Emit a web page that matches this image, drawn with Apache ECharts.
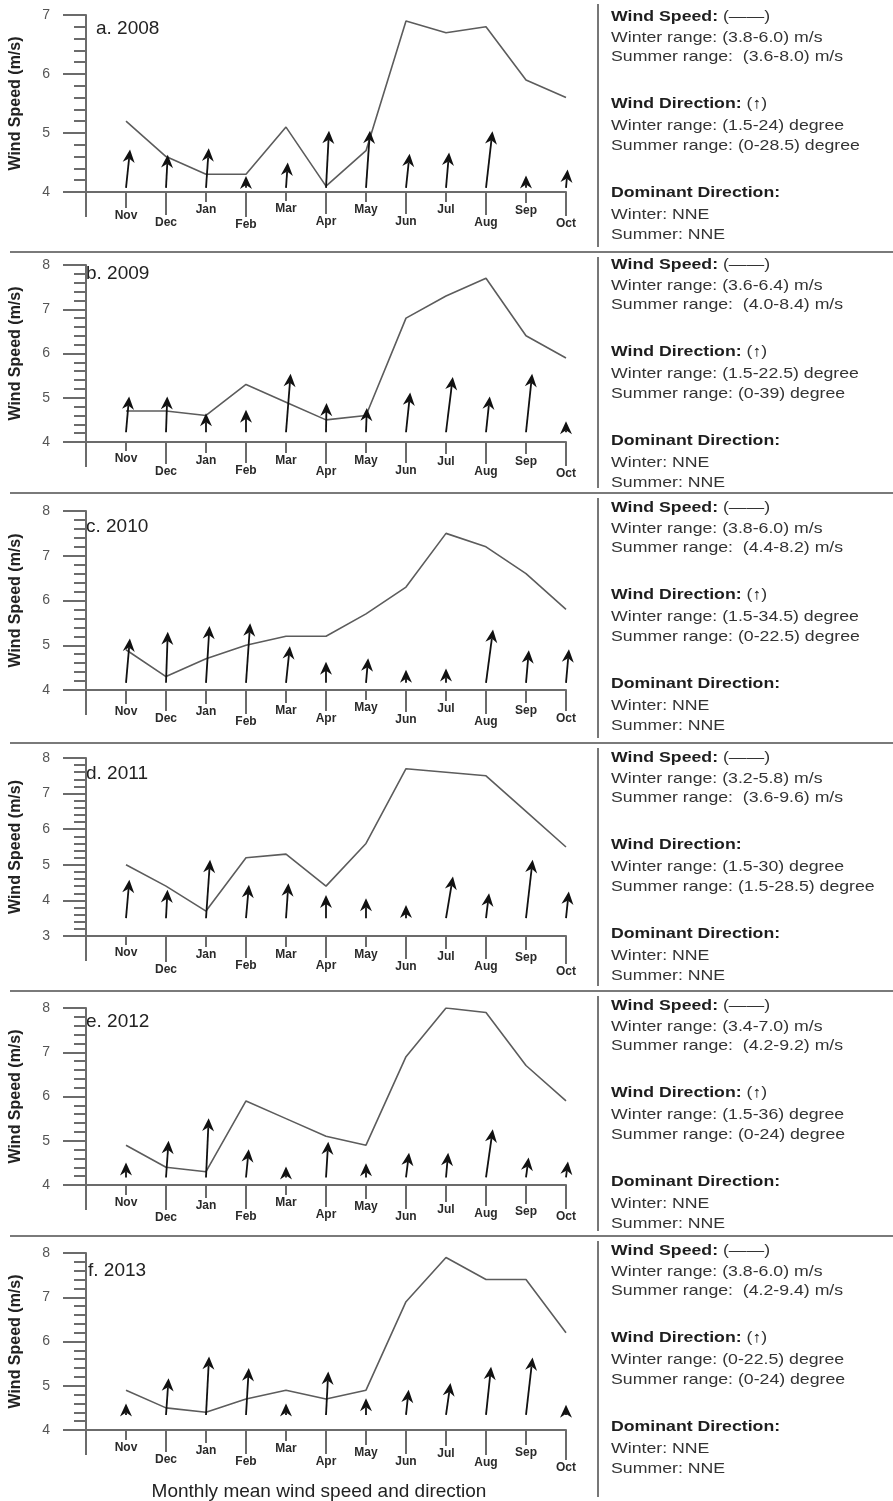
<!DOCTYPE html>
<html>
<head>
<meta charset="utf-8">
<script src="https://cdn.jsdelivr.net/npm/echarts@6/dist/echarts.min.js"></script>
<style>
  html, body { margin: 0; padding: 0; background: #fff; }
  #chart { width: 893px; height: 1501px; }
</style>
</head>
<body>
<div id="chart"></div>
<script>
// ---- data ----
const months = ['Nov', 'Dec', 'Jan', 'Feb', 'Mar', 'Apr', 'May', 'Jun', 'Jul', 'Aug', 'Sep', 'Oct'];
const panelTitles = ['a. 2008', 'b. 2009', 'c. 2010', 'd. 2011', 'e. 2012', 'f. 2013'];

// monthly mean wind speed (m/s)
const speed2008 = [5.2, 4.6, 4.3, 4.3, 5.1, 4.1, 4.7, 6.9, 6.7, 6.8, 5.9, 5.6];
const speed2009 = [4.7, 4.7, 4.6, 5.3, 4.9, 4.5, 4.6, 6.8, 7.3, 7.7, 6.4, 5.9];
const speed2010 = [4.9, 4.3, 4.7, 5.0, 5.2, 5.2, 5.7, 6.3, 7.5, 7.2, 6.6, 5.8];
const speed2011 = [5.0, 4.4, 3.7, 5.2, 5.3, 4.4, 5.6, 7.7, 7.6, 7.5, 6.5, 5.5];
const speed2012 = [4.9, 4.4, 4.3, 5.9, 5.5, 5.1, 4.9, 6.9, 8.0, 7.9, 6.7, 5.9];
const speed2013 = [4.9, 4.5, 4.4, 4.7, 4.9, 4.7, 4.9, 6.9, 7.9, 7.4, 7.4, 6.2];

// direction arrows: tip height on the speed scale
const arrowTip2008 = [4.72, 4.63, 4.74, 4.27, 4.50, 5.04, 5.04, 4.65, 4.67, 5.03, 4.28, 4.38];
const arrowTip2009 = [5.03, 5.03, 4.65, 4.73, 5.54, 4.88, 4.77, 5.12, 5.47, 5.03, 5.54, 4.47];
const arrowTip2010 = [5.15, 5.30, 5.43, 5.49, 4.98, 4.63, 4.71, 4.45, 4.48, 5.35, 4.89, 4.91];
const arrowTip2011 = [4.58, 4.30, 5.14, 4.44, 4.48, 4.15, 4.06, 3.87, 4.67, 4.20, 5.14, 4.25];
const arrowTip2012 = [4.51, 5.00, 5.51, 4.81, 4.42, 4.98, 4.49, 4.73, 4.73, 5.26, 4.62, 4.53];
const arrowTip2013 = [4.60, 5.17, 5.66, 5.40, 4.60, 5.32, 4.72, 4.91, 5.06, 5.43, 5.64, 4.57];

// direction arrows: lean east of north (degrees)
const arrowLean2008 = [6, 3, 4, 0, 4, 3, 4, 6, 5, 6.5, 0, 5];
const arrowLean2009 = [5, 2, 0, 0, 4.5, 1, 2, 6, 7, 6, 6, 0];
const arrowLean2010 = [5, 2, 3.5, 4, 6, 0, 5, 0, 0, 7.5, 5, 5];
const arrowLean2011 = [5, 3, 4, 5, 4, 0, 0, 0, 9.5, 7, 6.5, 6];
const arrowLean2012 = [0, 4, 2.6, 5.5, 0, 3.6, 0, 7, 5, 8, 7.5, 7];
const arrowLean2013 = [0, 4, 3, 3.4, 0, 3, 0, 6, 8, 6, 6.5, 0];

// arrow foot on the speed scale
const arrowBase = [4.07, 4.22, 4.16, 3.5, 4.17, 4.34];

// speed axis ranges
const yMin = [4, 4, 4, 3, 4, 4];
const yMax = [7, 8, 8, 8, 8, 8];

// summary text
const winterSpeed = ['3.8-6.0', '3.6-6.4', '3.8-6.0', '3.2-5.8', '3.4-7.0', '3.8-6.0'];
const summerSpeed = ['3.6-8.0', '4.0-8.4', '4.4-8.2', '3.6-9.6', '4.2-9.2', '4.2-9.4'];
const winterDir = ['1.5-24', '1.5-22.5', '1.5-34.5', '1.5-30', '1.5-36', '0-22.5'];
const summerDir = ['0-28.5', '0-39', '0-22.5', '1.5-28.5', '0-24', '0-24'];
const dominantWinter = ['NNE', 'NNE', 'NNE', 'NNE', 'NNE', 'NNE'];
const dominantSummer = ['NNE', 'NNE', 'NNE', 'NNE', 'NNE', 'NNE'];
const showDirSymbol = [true, true, true, false, true, true];

const speeds = [speed2008, speed2009, speed2010, speed2011, speed2012, speed2013];
const arrowTips = [arrowTip2008, arrowTip2009, arrowTip2010, arrowTip2011, arrowTip2012, arrowTip2013];
const arrowLeans = [arrowLean2008, arrowLean2009, arrowLean2010, arrowLean2011, arrowLean2012, arrowLean2013];

// ---- layout ----
const FONT = '"Liberation Sans", Arial, sans-serif';
const AXIS_COLOR = '#6b6b6b';
const gridTop = [15, 265, 511, 758, 1008, 1253];
const gridHeight = [177, 177, 179, 178, 177, 177];
const gridLeft = 82;
const gridWidth = 484;
// month label distance below the axis (px), staggered
const labelDrop = [
  [24, 31, 18, 33, 17, 30, 18, 30, 18, 31, 19, 32],
  [17, 30, 19, 29, 19, 30, 19, 29, 20, 30, 20, 32],
  [22, 29, 22, 32, 21, 29, 18, 30, 19, 32, 21, 29],
  [17, 34, 19, 30, 19, 30, 19, 31, 21, 31, 22, 36],
  [18, 33, 21, 32, 18, 30, 22, 32, 25, 29, 27, 32],
  [18, 30, 21, 32, 19, 32, 23, 32, 24, 33, 23, 38]
];
const titlePos = [[96, 30], [86, 275], [86, 528], [86, 775], [86, 1023], [88, 1272]];
const bandTop = [0, 253, 494, 744, 992, 1237];
const bandBottom = [251, 492, 742, 990, 1235, 1501];
const separatorsY = [252, 493, 743, 991, 1236];
const textTop = [17, 265, 508, 758, 1006, 1251];
const lineOffsets = [0, 21, 40, 87, 109, 129, 176, 198, 218];
const textLeft = 611;
const noteStretch = 1.18;

// ---- builders ----
function arrowRenderer(p) {
  return function (params, api) {
    const x = api.value(0);
    const tipVal = api.value(1);
    const lean = api.value(2) * Math.PI / 180;
    const foot = api.coord([x, arrowBase[p]]);
    const top = api.coord([x, tipVal]);
    const rise = foot[1] - top[1];
    const tx = foot[0] + rise * Math.tan(lean);
    const ty = top[1];
    const L = Math.hypot(tx - foot[0], ty - foot[1]);
    const ux = (tx - foot[0]) / L, uy = (ty - foot[1]) / L;
    const nx = -uy, ny = ux;
    const H = 13, W = 6, N = 9;
    const head = [
      [tx, ty],
      [tx - ux * H + nx * W, ty - uy * H + ny * W],
      [tx - ux * N, ty - uy * N],
      [tx - ux * H - nx * W, ty - uy * H - ny * W]
    ];
    const children = [];
    if (L > N) {
      children.push({
        type: 'line',
        shape: { x1: foot[0], y1: foot[1], x2: tx - ux * N, y2: ty - uy * N },
        style: { stroke: '#111', lineWidth: 1.8 }
      });
    }
    children.push({ type: 'polygon', shape: { points: head }, style: { fill: '#111' } });
    return { type: 'group', children };
  };
}

function tickRenderer(p) {
  return function (params, api) {
    const i = api.value(0);
    const pt = api.coord([i, yMin[p]]);
    if (i === 0) {
      return {
        type: 'line',
        shape: { x1: pt[0], y1: pt[1], x2: pt[0], y2: pt[1] + 25 },
        style: { stroke: AXIS_COLOR, lineWidth: 2 }
      };
    }
    const drop = labelDrop[p][i - 1];
    return {
      type: 'group',
      children: [
        {
          type: 'line',
          shape: { x1: pt[0], y1: pt[1], x2: pt[0], y2: pt[1] + drop - 8 },
          style: { stroke: AXIS_COLOR, lineWidth: 2 }
        },
        {
          type: 'text',
          x: pt[0], y: pt[1] + drop,
          style: {
            text: months[i - 1], fill: '#2a2a2a',
            font: 'bold 12px ' + FONT, textAlign: 'center', textVerticalAlign: 'middle'
          }
        }
      ]
    };
  };
}

const grids = [], xAxes = [], yAxes = [], series = [], graphics = [];

for (let p = 0; p < 6; p++) {
  grids.push({ left: gridLeft, top: gridTop[p], width: gridWidth, height: gridHeight[p] });
  xAxes.push({
    gridIndex: p, type: 'value', min: 0, max: 12, interval: 1,
    axisLine: { show: true, lineStyle: { color: AXIS_COLOR, width: 2 } },
    axisTick: { show: false }, axisLabel: { show: false }, splitLine: { show: false }
  });
  yAxes.push({
    gridIndex: p, type: 'value', min: yMin[p], max: yMax[p], interval: 1,
    name: 'Wind Speed (m/s)', nameLocation: 'middle', nameGap: 62,
    nameTextStyle: { fontFamily: FONT, fontWeight: 'bold', fontSize: 16, color: '#222' },
    axisLine: { show: true, lineStyle: { color: AXIS_COLOR, width: 2 } },
    axisTick: { show: true, length: 23, lineStyle: { color: AXIS_COLOR, width: 2 } },
    minorTick: { show: true, splitNumber: 5, length: 12, lineStyle: { color: AXIS_COLOR, width: 2 } },
    axisLabel: { margin: 36, fontFamily: FONT, fontSize: 14, color: '#555' },
    splitLine: { show: false }, minorSplitLine: { show: false }
  });

  series.push({
    type: 'line', xAxisIndex: p, yAxisIndex: p,
    data: speeds[p].map((v, i) => [i + 1, v]),
    symbol: 'none', lineStyle: { color: '#5c5c5c', width: 1.6 }, z: 3, silent: true
  });
  series.push({
    type: 'custom', xAxisIndex: p, yAxisIndex: p,
    data: arrowTips[p].map((v, i) => [i + 1, v, arrowLeans[p][i]]),
    renderItem: arrowRenderer(p), z: 5, silent: true, clip: false
  });
  series.push({
    type: 'custom', xAxisIndex: p, yAxisIndex: p,
    data: [0, 1, 2, 3, 4, 5, 6, 7, 8, 9, 10, 11, 12].map(i => [i]),
    renderItem: tickRenderer(p), z: 2, silent: true, clip: false
  });

  // panel title
  graphics.push({
    type: 'text', left: titlePos[p][0], top: titlePos[p][1] - 11,
    style: { text: panelTitles[p], font: '19px ' + FONT, fill: '#222' }
  });

  // vertical divider between plot and notes
  graphics.push({
    type: 'line', shape: { x1: 598, y1: bandTop[p] + 4, x2: 598, y2: bandBottom[p] - 4 },
    style: { stroke: '#777', lineWidth: 2 }
  });

  // notes
  const lines = [
    '{b|Wind Speed:} {n|(——)}',
    'Winter range: (' + winterSpeed[p] + ') m/s',
    'Summer range:  (' + summerSpeed[p] + ') m/s',
    showDirSymbol[p] ? '{b|Wind Direction:} {n|(}{s|↑}{n|)}' : '{b|Wind Direction:}',
    'Winter range: (' + winterDir[p] + ') degree',
    'Summer range: (' + summerDir[p] + ') degree',
    '{b|Dominant Direction:}',
    'Winter: ' + dominantWinter[p],
    'Summer: ' + dominantSummer[p]
  ];
  lines.forEach((t, k) => {
    graphics.push({
      type: 'text', x: textLeft, y: textTop[p] + lineOffsets[k], scaleX: noteStretch,
      style: {
        text: t, font: '15px ' + FONT, fill: '#333', textVerticalAlign: 'middle',
        rich: {
          b: { fontFamily: FONT, fontWeight: 'bold', fontSize: 15, fill: '#1e1e1e', color: '#1e1e1e' },
          n: { fontFamily: FONT, fontSize: 15, fill: '#333', color: '#333' },
          s: { fontFamily: FONT, fontWeight: 'bold', fontSize: 15, fill: '#111', color: '#111' }
        }
      }
    });
  });
}

// horizontal separators between years
separatorsY.forEach(y => {
  graphics.push({
    type: 'line', shape: { x1: 10, y1: y, x2: 893, y2: y },
    style: { stroke: '#7a7a7a', lineWidth: 2 }
  });
});

// caption
graphics.push({
  type: 'text', x: 319, y: 1492,
  style: {
    text: 'Monthly mean wind speed and direction', font: '19px ' + FONT, fill: '#222',
    textAlign: 'center', textVerticalAlign: 'middle'
  }
});

const chart = echarts.init(document.getElementById('chart'), null, { renderer: 'canvas' });
chart.setOption({
  backgroundColor: '#fff',
  animation: false,
  textStyle: { fontFamily: FONT },
  grid: grids,
  xAxis: xAxes,
  yAxis: yAxes,
  series: series,
  graphic: graphics
});
</script>
</body>
</html>
